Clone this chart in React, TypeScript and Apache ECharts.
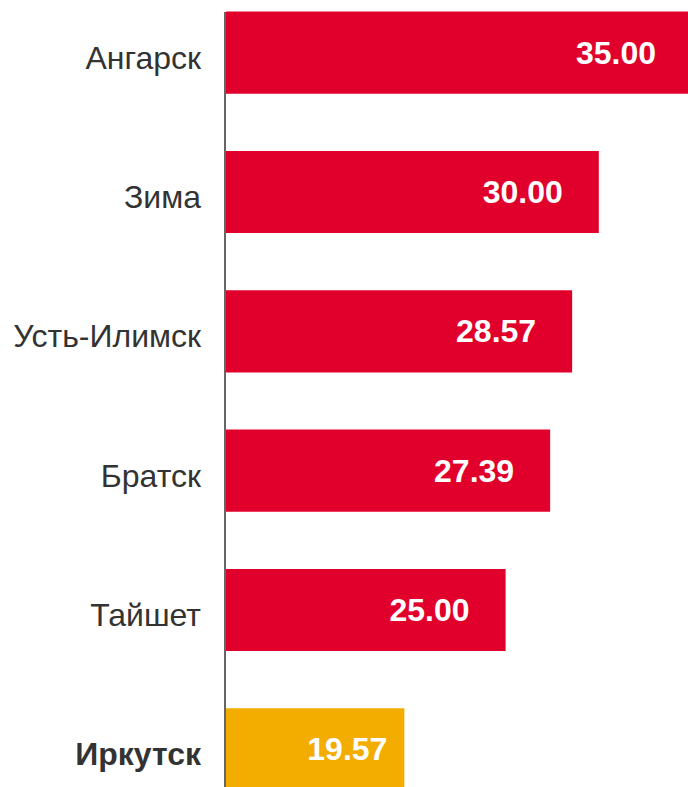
import React, { useEffect, useRef } from "react";
import * as echarts from "echarts";

const cities = ["Ангарск", "Зима", "Усть-Илимск", "Братск", "Тайшет", "Иркутск"];
const values = [35.0, 30.0, 28.57, 27.39, 25.0, 19.57];
const highlightCity = "Иркутск";

const RED = "#E1002B";
const GOLD = "#F2AD00";
const TEXT = "#333333";
const FONT = "Liberation Sans, Arial, sans-serif";

export default function App() {
  const ref = useRef<HTMLDivElement>(null);

  useEffect(() => {
    if (!ref.current) return;
    const chart = echarts.init(ref.current, null, { renderer: "svg" });
    const data = cities.map((c, i) => {
      const hl = c === highlightCity;
      return {
        value: values[i],
        itemStyle: { color: hl ? GOLD : RED },
        label: { distance: hl ? 17 : 36 },
      };
    });
    chart.setOption({
      animation: false,
      grid: {
        left: 226,
        top: 3,
        height: 836,
        width: 466,
        containLabel: false,
        outerBoundsMode: "none",
      },
      xAxis: {
        type: "value",
        min: 10,
        max: 35,
        show: false,
      },
      yAxis: {
        type: "category",
        data: cities,
        inverse: true,
        axisLine: { show: false },
        axisTick: { show: false },
        axisLabel: {
          margin: 25,
          fontFamily: FONT,
          fontSize: 32,
          color: TEXT,
          padding: [10, 0, 0, 0],
          formatter: (v: string) => (v === highlightCity ? `{b|${v}}` : v),
          rich: {
            b: {
              fontFamily: FONT,
              fontSize: 32,
              fontWeight: "bold",
              color: TEXT,
            },
          },
        },
        splitLine: { show: false },
      },
      graphic: [
        {
          type: "line",
          shape: { x1: 225, y1: 32, x2: 225, y2: 860 },
          style: { stroke: "#333333", lineWidth: 1.5 },
          z: 10,
        },
      ],
      series: [
        {
          type: "bar",
          data,
          barCategoryGap: "41%",
          label: {
            show: true,
            position: "insideRight",
            formatter: (p: any) => Number(p.value).toFixed(2),
            color: "#ffffff",
            fontFamily: FONT,
            fontWeight: "bold",
            fontSize: 32,
          },
        },
      ],
    });
    return () => chart.dispose();
  }, []);

  return (
    <div
      style={{
        width: 688,
        height: 787,
        position: "fixed",
        left: 0,
        top: 0,
        overflow: "hidden",
        background: "#ffffff",
      }}
    >
      <div
        ref={ref}
        style={{ position: "absolute", left: 0, top: -20, width: 700, height: 860 }}
      />
    </div>
  );
}
